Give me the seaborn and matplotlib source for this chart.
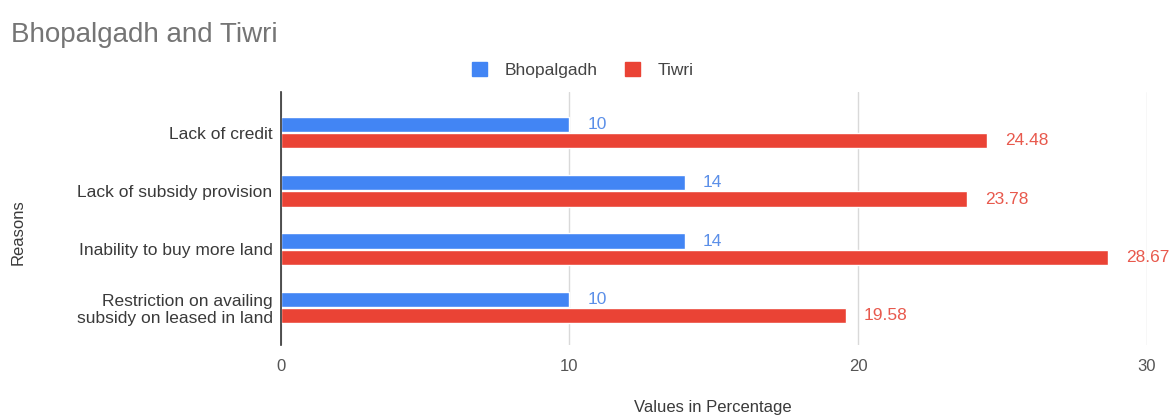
import matplotlib
matplotlib.use("Agg")
import matplotlib.pyplot as plt
import seaborn as sns
import pandas as pd

reasons = [
    "Lack of credit",
    "Lack of subsidy provision",
    "Inability to buy more land",
    "Restriction on availing\nsubsidy on leased in land",
]
bhopalgadh = [10, 14, 14, 10]
tiwri = [24.48, 23.78, 28.67, 19.58]
series_names = ["Bhopalgadh", "Tiwri"]
series_colors = ["#4285F4", "#EA4335"]
label_colors = ["#5B8FE8", "#E8594D"]
x_ticks = [0, 10, 20, 30]

df = pd.DataFrame({
    "Reasons": reasons * 2,
    "Value": bhopalgadh + tiwri,
    "Village": [series_names[0]] * len(reasons) + [series_names[1]] * len(reasons),
})

sns.set_theme(style="white")
plt.rcParams["font.family"] = ["Liberation Sans", "DejaVu Sans"]

fig = plt.figure(figsize=(11.73, 4.17), dpi=100)
ax = fig.add_axes([0.2395, 0.173, 0.738, 0.607])

sns.barplot(
    data=df, y="Reasons", x="Value", hue="Village", orient="h",
    palette=series_colors, width=0.56, gap=0.06, ax=ax, legend=False,
    saturation=1,
)

for container, vals, col in zip(ax.containers, [bhopalgadh, tiwri], label_colors):
    labels = [f"{v:g}" for v in vals]
    ax.bar_label(container, labels=labels, padding=13, color=col, fontsize=12.5)

ax.set_xlim(0, 30)
ax.set_ylim(3.64, -0.7)
ax.set_xticks(x_ticks)
ax.set_xticklabels([str(t) for t in x_ticks], fontsize=12, color="#555555")
ax.tick_params(axis="x", length=0, pad=10)
ax.tick_params(axis="y", length=0, pad=6, labelsize=12.5, labelcolor="#3a3a3a")
ax.grid(axis="x", color="#D9D9D9", linewidth=1)
ax.set_axisbelow(True)
for side in ["top", "right", "bottom"]:
    ax.spines[side].set_visible(False)
ax.spines["left"].set_color("#333333")
ax.spines["left"].set_linewidth(1.2)

ax.set_xlabel("Values in Percentage", fontsize=12, color="#3a3a3a")
ax.set_ylabel("Reasons", fontsize=12, color="#3a3a3a")
ax.xaxis.set_label_coords(0.499, -0.249)
ax.yaxis.set_label_coords(-0.304, 0.447)
ax.xaxis.label.set_va("center")
ax.yaxis.label.set_va("center")

handles = [plt.Rectangle((0, 0), 1, 1, color=c) for c in series_colors]
fig.legend(handles, series_names, loc="center", bbox_to_anchor=(0.497, 0.832),
           ncol=2, frameon=False, fontsize=12.5, handlelength=0.85, handleheight=0.85,
           columnspacing=1.6, handletextpad=1.0, labelcolor="#444444")

fig.text(0.009, 0.915, "Bhopalgadh and Tiwri", fontsize=20, color="#757575",
         ha="left", va="center")

fig.savefig("out.png", dpi=100)
